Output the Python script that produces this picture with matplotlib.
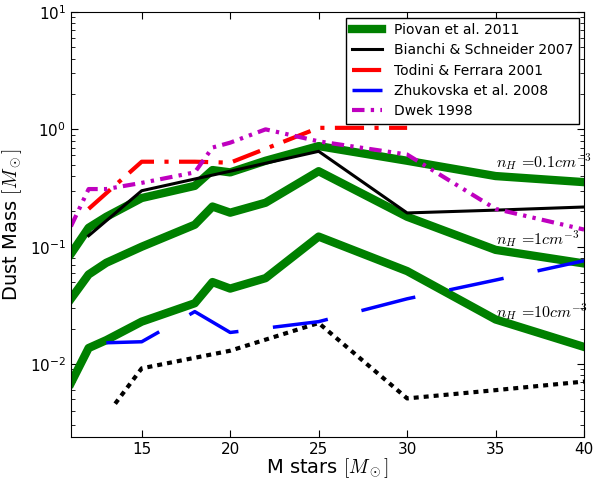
import matplotlib
matplotlib.use('Agg')
import matplotlib.pyplot as plt

# Piovan et al. 2011, three ISM densities
piovan_x = [11, 12, 13, 15, 18, 19, 20, 22, 25, 30, 35, 40]
piovan_01 = [0.087, 0.145, 0.18, 0.26, 0.33, 0.45, 0.43, 0.54, 0.72, 0.54, 0.40, 0.355]
piovan_1 = [0.036, 0.058, 0.073, 0.10, 0.154, 0.22, 0.195, 0.237, 0.44, 0.18, 0.094, 0.072]
piovan_10 = [0.0069, 0.0137, 0.016, 0.023, 0.033, 0.050, 0.044, 0.054, 0.122, 0.062, 0.024, 0.014]

# Bianchi & Schneider 2007 (upper and lower)
bianchi_x = [12, 15, 20, 25, 30, 35, 40]
bianchi = [0.124, 0.30, 0.44, 0.65, 0.194, 0.205, 0.218]
bianchi_low_x = [13.5, 15, 20, 25, 30, 35, 40]
bianchi_low = [0.0046, 0.0092, 0.013, 0.0224, 0.0051, 0.006, 0.0071]

# Todini & Ferrara 2001
todini_x = [12, 15, 18, 20, 25, 30]
todini = [0.21, 0.53, 0.53, 0.52, 1.03, 1.03]

# Zhukovska et al. 2008
zhuk_x = [13, 15, 18, 20, 25, 30, 35, 40]
zhuk = [0.0152, 0.0155, 0.028, 0.0186, 0.023, 0.036, 0.052, 0.076]

# Dwek 1998
dwek_x = [11, 12, 13, 15, 18, 19, 20, 22, 25, 30, 35, 40]
dwek = [0.149, 0.31, 0.31, 0.35, 0.43, 0.70, 0.77, 1.0, 0.79, 0.61, 0.21, 0.14]

density_labels = [r'$n_H\/=\!0.1cm^{-3}$', r'$n_H\/=\!1cm^{-3}$', r'$n_H\/=\!10cm^{-3}$']
density_label_y = [0.52, 0.115, 0.0273]

plt.rcParams['mathtext.fontset'] = 'cm'
plt.rcParams['xtick.direction'] = 'in'
plt.rcParams['ytick.direction'] = 'in'
plt.rcParams['xtick.top'] = True
plt.rcParams['ytick.right'] = True
plt.rcParams['xtick.major.size'] = 5
plt.rcParams['ytick.major.size'] = 5
plt.rcParams['ytick.minor.size'] = 3

fig = plt.figure(figsize=(5.96, 4.79), dpi=100)
ax = fig.add_axes([0.119, 0.088, 0.861, 0.887])

ax.plot(piovan_x, piovan_01, color='green', linewidth=6, label='Piovan et al. 2011')
ax.plot(piovan_x, piovan_1, color='green', linewidth=6)
ax.plot(piovan_x, piovan_10, color='green', linewidth=6)
ax.plot(bianchi_x, bianchi, color='black', linewidth=2.2, label='Bianchi & Schneider 2007')
ax.plot(bianchi_low_x, bianchi_low, color='black', linewidth=3, dashes=(1.2, 1.2))
ax.plot(todini_x, todini, color='red', linewidth=3, dashes=(7, 2.5, 1, 2.5),
        label='Todini & Ferrara 2001')
ax.plot(zhuk_x, zhuk, color='blue', linewidth=2.5, dashes=(16, 10),
        label='Zhukovska et al. 2008')
ax.plot(dwek_x, dwek, color='m', linewidth=3, dashes=(3, 1.5, 0.8, 1.5, 0.8, 1.5),
        label='Dwek 1998')

for lab, y in zip(density_labels, density_label_y):
    ax.text(35.05, y, lab, fontsize=11.5, ha='left', va='center', zorder=1)

ax.set_yscale('log')
ax.set_xlim(11, 40)
ax.set_ylim(0.0024, 10)
ax.set_xlabel(r'M stars $[M_\odot]$', fontsize=14, labelpad=0)
ax.set_ylabel(r'Dust Mass $[M_\odot]$', fontsize=14)
ax.tick_params(labelsize=11)

leg = ax.legend(loc='upper right', fontsize=10, fancybox=False, framealpha=1,
                edgecolor='black', handlelength=2.2, labelspacing=0.45,
                borderaxespad=0.4)
leg.get_frame().set_linewidth(1)

fig.savefig('out.png', dpi=100)
